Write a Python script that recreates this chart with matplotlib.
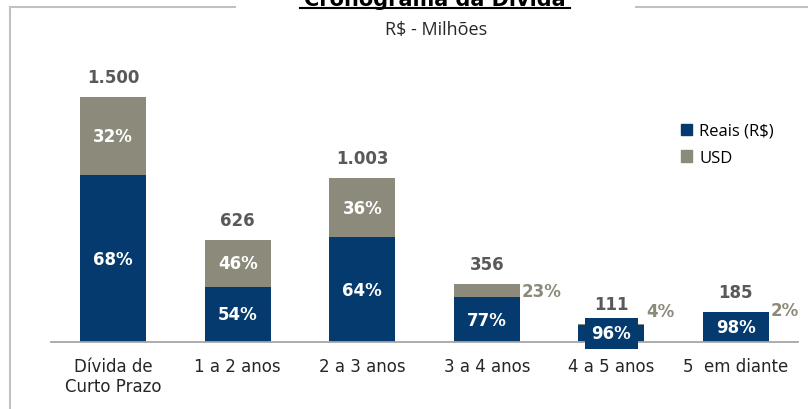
import matplotlib

matplotlib.use("Agg")
import matplotlib.pyplot as plt
from matplotlib.lines import Line2D
from matplotlib.patches import Patch

categories = ["Dívida de\nCurto Prazo", "1 a 2 anos", "2 a 3 anos", "3 a 4 anos", "4 a 5 anos", "5  em diante"]
totals = [1500, 626, 1003, 356, 111, 185]
reais_pct = [68, 54, 64, 77, 96, 98]
usd_pct = [32, 46, 36, 23, 4, 2]
total_labels = ["1.500", "626", "1.003", "356", "111", "185"]

NAVY = "#043a6d"
KHAKI = "#8c8a7a"
GREY_TXT = "#595959"
FONT = "DejaVu Sans"
LEG_FONT = "Open Sans"

W, H = 808, 410
fig = plt.figure(figsize=(W / 100, H / 100), dpi=100)


def fx(px):
    return px / W


def fy(py):
    return 1 - py / H


# axes placed in pixel space: baseline y=343, x range 51..798
ymax = 1800
px_per_unit = 245 / 1500
ax_h = ymax * px_per_unit
ax = fig.add_axes([fx(51), fy(343), fx(798) - fx(51), ax_h / H])
ax.set_xlim(-0.5, 5.5)
ax.set_ylim(0, ymax)

x = list(range(len(categories)))
reais_vals = [t * p / 100 for t, p in zip(totals, reais_pct)]
usd_vals = [t * p / 100 for t, p in zip(totals, usd_pct)]
width = 0.53

ax.bar(x, reais_vals, width=width, color=NAVY, zorder=2)
ax.bar(x, usd_vals, width=width, bottom=reais_vals, color=KHAKI, zorder=2)

# labels
inside_usd = [True, True, True, False, False, False]
usd_dy = [0, 0, 0, -5, 9, 1]  # points, for labels placed outside
for i in x:
    # reais pct, centered in navy segment
    ax.text(i, reais_vals[i] / 2, f"{reais_pct[i]}%", ha="center", va="center",
            color="white", fontsize=12, fontweight="bold", family=FONT, zorder=4,
            bbox=dict(boxstyle="square,pad=0.4", fc=NAVY, ec="none") if reais_vals[i] < 150 else None)
    if inside_usd[i]:
        ax.text(i, reais_vals[i] + usd_vals[i] / 2, f"{usd_pct[i]}%", ha="center", va="center",
                color="white", fontsize=12, fontweight="bold", family=FONT, zorder=4)
    else:
        ax.annotate(f"{usd_pct[i]}%", (i + width / 2, totals[i]), xytext=(1.5, usd_dy[i]),
                    textcoords="offset points", ha="left", va="center",
                    color=KHAKI, fontsize=12, fontweight="bold", family=FONT, zorder=4)
    ax.annotate(total_labels[i], (i, totals[i]), xytext=(0, 14.5), textcoords="offset points",
                ha="center", va="center", color=GREY_TXT, fontsize=12, fontweight="bold",
                family=FONT)

ax.set_xticks(x)
ax.set_xticklabels(categories, fontsize=12, family=FONT, color="#262626", linespacing=1.15)
ax.tick_params(axis="x", length=0, pad=11)
ax.set_yticks([])
for s in ["top", "right", "left"]:
    ax.spines[s].set_visible(False)
ax.spines["bottom"].set_color("#a6a6a6")
ax.spines["bottom"].set_linewidth(1.3)
ax.spines["bottom"].set_zorder(3)

# legend
handles = [Patch(color=NAVY, label="Reais (R$)"), Patch(color=KHAKI, label="USD")]
leg = fig.legend(handles=handles, loc="upper left", bbox_to_anchor=(fx(666), fy(109)),
                 frameon=False, handlelength=0.65, handleheight=0.65, handletextpad=0.45,
                 labelspacing=0.65, prop={"family": LEG_FONT, "size": 12})

# frame lines
frame_col = "#c0c0c0"
fig.add_artist(Line2D([fx(10), fx(10)], [fy(8), fy(410)], color=frame_col, lw=1.5))
fig.add_artist(Line2D([fx(10), fx(235)], [fy(8), fy(8)], color=frame_col, lw=1.5))
fig.add_artist(Line2D([fx(636), fx(808)], [fy(8), fy(8)], color=frame_col, lw=1.5))

# title (cut at top edge) and subtitle
fig.text(fx(435), fy(6), "Cronograma da Dívida", ha="center", va="baseline",
         fontsize=15, fontweight="bold", family=FONT, color="black")
fig.add_artist(Line2D([fx(300), fx(570)], [fy(9), fy(9)], color="black", lw=1.5))
fig.text(fx(436), fy(30), "R$ - Milhões", ha="center", va="center",
         fontsize=13, family=LEG_FONT, color="#262626")

fig.savefig("out.png", dpi=100)
